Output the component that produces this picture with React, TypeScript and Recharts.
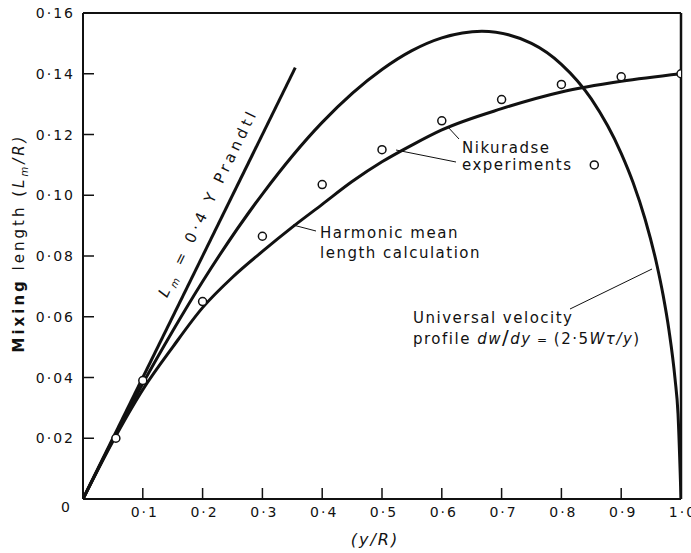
import React from 'react';
import { ComposedChart, Line, Scatter, XAxis, YAxis, ReferenceLine } from 'recharts';

const xTicks = [0, 0.1, 0.2, 0.3, 0.4, 0.5, 0.6, 0.7, 0.8, 0.9, 1.0];
const xTickLabels = ['0', '0·1', '0·2', '0·3', '0·4', '0·5', '0·6', '0·7', '0·8', '0·9', '1·0'];
const yTicks = [0, 0.02, 0.04, 0.06, 0.08, 0.1, 0.12, 0.14, 0.16];
const yTickLabels = ['0', '0·02', '0·04', '0·06', '0·08', '0·10', '0·12', '0·14', '0·16'];

const nikuradseX = [0.055, 0.1, 0.2, 0.3, 0.4, 0.5, 0.6, 0.7, 0.8, 0.855, 0.9, 1.0];
const nikuradseY = [0.02, 0.039, 0.065, 0.0865, 0.1035, 0.115, 0.1245, 0.1315, 0.1365, 0.11, 0.139, 0.14];

const harmonicX = [0, 0.05, 0.1, 0.15, 0.2, 0.25, 0.3, 0.35, 0.4, 0.45, 0.5, 0.55, 0.6, 0.7, 0.8, 0.9, 1.0];
const harmonicY = [0, 0.019, 0.036, 0.05, 0.063, 0.073, 0.0815, 0.0895, 0.097, 0.1045, 0.111, 0.1165, 0.1215, 0.1285, 0.134, 0.1375, 0.14];

const universalX = [0, 0.05, 0.1, 0.15, 0.2, 0.3, 0.4, 0.5, 0.55, 0.6, 0.667, 0.75, 0.8, 0.85, 0.9, 0.92, 0.94, 0.96, 0.97, 0.98, 0.99, 0.995, 1.0];
const universalY = [0, 0.0195, 0.038, 0.0553, 0.0716, 0.1004, 0.124, 0.1414, 0.1476, 0.1518, 0.154, 0.15, 0.1431, 0.1317, 0.1138, 0.1041, 0.0921, 0.0768, 0.0672, 0.0554, 0.0396, 0.0281, 0];

const prandtlX = [0, 0.355];
const prandtlY = [0, 0.142];

const zip = (xs: number[], ys: number[]) => xs.map((x, i) => ({ x, y: ys[i] }));
const nikData = zip(nikuradseX, nikuradseY);
const harmonicData = zip(harmonicX, harmonicY);
const universalData = zip(universalX, universalY);
const prandtlData = zip(prandtlX, prandtlY);

const FONT = 'DejaVu Sans';

const findIdx = (arr: number[], v: number) => arr.findIndex((t) => Math.abs(t - v) < 1e-6);

const YTick = (props: any) => {
  const { x, y, payload } = props;
  const i = findIdx(yTicks, payload.value);
  if (i === 0) {
    return (
      <text x={x - 11} y={y + 13} textAnchor="end" fontSize={14} fontFamily={FONT} letterSpacing={2} fill="#111">
        0
      </text>
    );
  }
  return (
    <g>
      <line x1={x} x2={x + 11} y1={y} y2={y} stroke="#111" strokeWidth={1.5} />
      <text x={x - 8} y={y + 5} textAnchor="end" fontSize={14} fontFamily={FONT} letterSpacing={2} fill="#111">
        {yTickLabels[i]}
      </text>
    </g>
  );
};

const XTick = (props: any) => {
  const { x, y, payload } = props;
  const i = findIdx(xTicks, payload.value);
  if (i === 0) return <g />;
  return (
    <g>
      <line x1={x} x2={x} y1={y} y2={y - 11} stroke="#111" strokeWidth={1.5} />
      <text x={x + 2} y={y + 18} textAnchor="middle" fontSize={14} fontFamily={FONT} letterSpacing={2} fill="#111">
        {xTickLabels[i]}
      </text>
    </g>
  );
};

const Circle = (props: any) => {
  const { cx, cy } = props;
  return <circle cx={cx} cy={cy} r={4} fill="#fff" stroke="#111" strokeWidth={1.5} />;
};

const txt = { fontFamily: FONT, fontSize: 15, fill: '#111', letterSpacing: 1.5 } as any;

export default function App() {
  return (
    <div style={{ position: 'absolute', left: 0, top: 0, width: 691, height: 553, background: '#fff' }}>
      <ComposedChart width={691} height={553} margin={{ top: 13, right: 10, bottom: 24, left: 23 }}>
        <XAxis
          type="number"
          dataKey="x"
          domain={[0, 1]}
          ticks={xTicks}
          tick={<XTick />}
          tickSize={0}
          tickMargin={0}
          tickLine={false}
          height={30}
          axisLine={{ stroke: '#111', strokeWidth: 2 }}
          allowDataOverflow
        />
        <YAxis
          type="number"
          dataKey="y"
          domain={[0, 0.16]}
          ticks={yTicks}
          tick={<YTick />}
          tickSize={0}
          tickMargin={0}
          tickLine={false}
          width={60}
          axisLine={{ stroke: '#111', strokeWidth: 2 }}
          allowDataOverflow
        />
        <ReferenceLine y={0.16} stroke="#111" strokeWidth={2} ifOverflow="extendDomain" />
        <ReferenceLine x={1} stroke="#111" strokeWidth={2.5} ifOverflow="extendDomain" />
        <Line data={prandtlData} dataKey="y" type="linear" stroke="#111" strokeWidth={3} dot={false} isAnimationActive={false} />
        <Line data={universalData} dataKey="y" type="monotone" stroke="#111" strokeWidth={3} dot={false} isAnimationActive={false} />
        <Line data={harmonicData} dataKey="y" type="monotone" stroke="#111" strokeWidth={3} dot={false} isAnimationActive={false} />
        <Scatter data={nikData} dataKey="y" shape={<Circle />} isAnimationActive={false} />
      </ComposedChart>
      <svg width={691} height={553} style={{ position: 'absolute', left: 0, top: 0, pointerEvents: 'none' }}>
        {/* Y axis label */}
        <text transform="translate(24,243) rotate(-90)" textAnchor="middle" {...txt} fontSize={15} letterSpacing={3}>
          <tspan fontWeight="bold">Mixing</tspan>
          <tspan>  length  (</tspan>
          <tspan fontStyle="italic">L</tspan>
          <tspan fontStyle="italic" fontSize={10} dy={4}>m</tspan>
          <tspan dy={-4} fontStyle="italic">/R)</tspan>
        </text>
        {/* X axis label */}
        <text x={375} y={545} textAnchor="middle" {...txt} fontSize={16} fontStyle="italic" letterSpacing={2}>
          (y/R)
        </text>
        {/* Prandtl */}
        <text transform="translate(212,206) rotate(-64)" textAnchor="middle" {...txt} textLength={205} lengthAdjust="spacing">
          <tspan fontStyle="italic">L</tspan>
          <tspan fontStyle="italic" fontSize={10} dy={4}>m</tspan>
          <tspan dy={-4}> = 0·4 Y  Prandtl</tspan>
        </text>
        {/* Harmonic */}
        <line x1={316} y1={231} x2={293} y2={225} stroke="#111" strokeWidth={1} />
        <text x={320} y={238} {...txt}>Harmonic  mean</text>
        <text x={320} y={258} {...txt}>length  calculation</text>
        {/* Nikuradse */}
        <line x1={459} y1={139} x2={447} y2={126} stroke="#111" strokeWidth={1} />
        <line x1={456} y1={162} x2={396} y2={150} stroke="#111" strokeWidth={1} />
        <text x={462} y={153} {...txt}>Nikuradse</text>
        <text x={462} y={170} {...txt}>experiments</text>
        {/* Universal */}
        <line x1={570} y1={309} x2={652} y2={269} stroke="#111" strokeWidth={1} />
        <text x={413} y={323} {...txt}>Universal  velocity</text>
        <text x={413} y={344} {...txt}>
          profile  <tspan fontStyle="italic">dw</tspan>
          <tspan fontSize={20}>/</tspan>
          <tspan fontStyle="italic">dy</tspan>
          <tspan fontSize={12}> = </tspan>
          (2·5<tspan fontStyle="italic">Wτ/y</tspan>)
        </text>
      </svg>
    </div>
  );
}
